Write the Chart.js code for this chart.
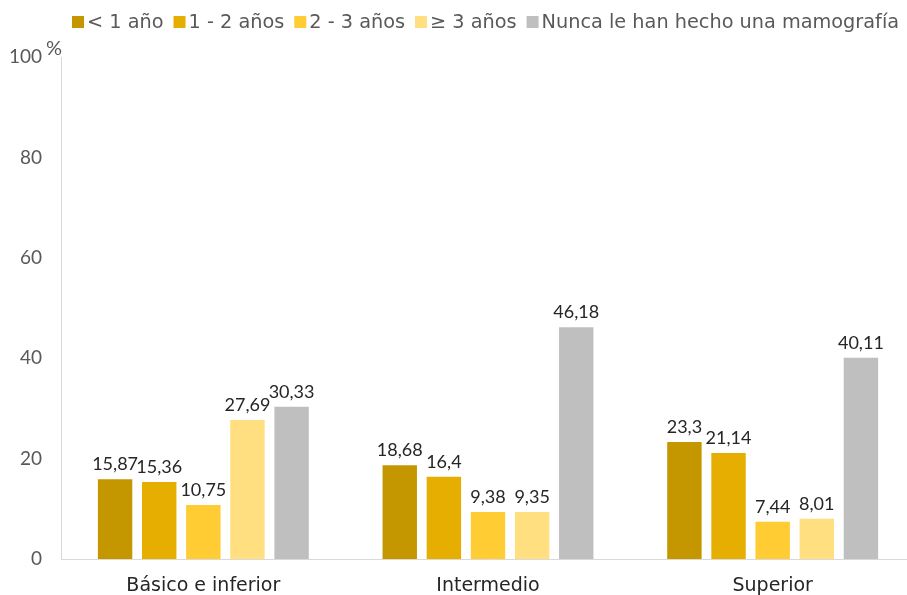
<!DOCTYPE html>
<html>
<head>
<meta charset="utf-8">
<script src="https://cdn.jsdelivr.net/npm/chart.js@4/dist/chart.umd.min.js"></script>
<style>
html,body{margin:0;padding:0;overflow:hidden;background:#fff;width:907px;height:595px;}
canvas{display:block;}
</style>
</head>
<body>
<canvas id="c" width="920" height="595"></canvas>
<script>
const categories = ["Básico e inferior", "Intermedio", "Superior"];
const seriesNames = ["< 1 año", "1 - 2 años", "2 - 3 años", "≥ 3 años", "Nunca le han hecho una mamografía"];
const menos1 = [15.87, 18.68, 23.3];
const uno2 = [15.36, 16.4, 21.14];
const dos3 = [10.75, 9.38, 7.44];
const mas3 = [27.69, 9.35, 8.01];
const nunca = [30.33, 46.18, 40.11];
const yTicks = [0, 20, 40, 60, 80, 100];
const colors = ["#C49600", "#E6AE00", "#FFCC33", "#FFDF80", "#BFBFBF"];

const NUMFONT = "Lato, sans-serif";
const TXTFONT = "'DejaVu Sans', sans-serif";
const allSeries = [menos1, uno2, dos3, mas3, nunca];

const fmt = v => String(v).replace('.', ',');

const labelsPlugin = {
  id: 'valueLabels',
  afterDatasetsDraw(chart) {
    const ctx = chart.ctx;
    ctx.save();
    ctx.font = "18px " + NUMFONT;
    ctx.fillStyle = "#262626";
    ctx.textAlign = "center";
    ctx.textBaseline = "alphabetic";
    chart.data.datasets.forEach((ds, i) => {
      const meta = chart.getDatasetMeta(i);
      meta.data.forEach((bar, j) => {
        ctx.fillText(fmt(ds.data[j]), bar.x, bar.y - 9);
      });
    });
    ctx.restore();
  }
};

const extrasPlugin = {
  id: 'extras',
  afterDraw(chart) {
    const ctx = chart.ctx;
    ctx.save();
    ctx.font = "20px " + NUMFONT;
    ctx.fillStyle = "#595959";
    ctx.textAlign = "left";
    ctx.textBaseline = "alphabetic";
    ctx.fillText("%", 46, 55);
    ctx.font = "19.3px " + TXTFONT;
    ctx.textBaseline = "middle";
    let x = 72;
    const y = 22;
    seriesNames.forEach((name, i) => {
      ctx.fillStyle = colors[i];
      ctx.fillRect(x, y - 6, 12, 12);
      x += 15;
      ctx.fillStyle = "#595959";
      ctx.fillText(name, x, y + 1);
      x += ctx.measureText(name).width + 10;
    });
    ctx.restore();
  }
};

function build() {
  new Chart(document.getElementById('c'), {
    type: 'bar',
    data: {
      labels: categories,
      datasets: allSeries.map((d, i) => ({
        label: seriesNames[i],
        data: d,
        backgroundColor: colors[i],
        barPercentage: 0.78,
        categoryPercentage: 0.775
      }))
    },
    options: {
      responsive: false,
      animation: false,
      layout: { padding: { left: 0, right: 5, top: 57, bottom: 0 } },
      plugins: { legend: { display: false }, tooltip: { enabled: false } },
      scales: {
        x: {
          grid: { display: false, drawTicks: false },
          border: { display: true, color: "#D9D9D9", width: 1 },
          ticks: { font: { family: TXTFONT, size: 19 }, color: "#262626", padding: 16 },
          afterFit(s) { s.height = 36; }
        },
        y: {
          min: 0, max: 100,
          afterBuildTicks(s) { s.ticks = yTicks.map(v => ({ value: v })); },
          grid: { display: false, drawTicks: false },
          border: { display: true, color: "#D9D9D9", width: 1 },
          ticks: { font: { family: NUMFONT, size: 19 }, color: "#595959", padding: 19 },
          afterFit(s) { s.width = 61; }
        }
      }
    },
    plugins: [labelsPlugin, extrasPlugin]
  });
}

Promise.all([
  document.fonts.load("19px Lato"),
  document.fonts.load("19px 'DejaVu Sans'")
]).then(build, build);
</script>
</body>
</html>
